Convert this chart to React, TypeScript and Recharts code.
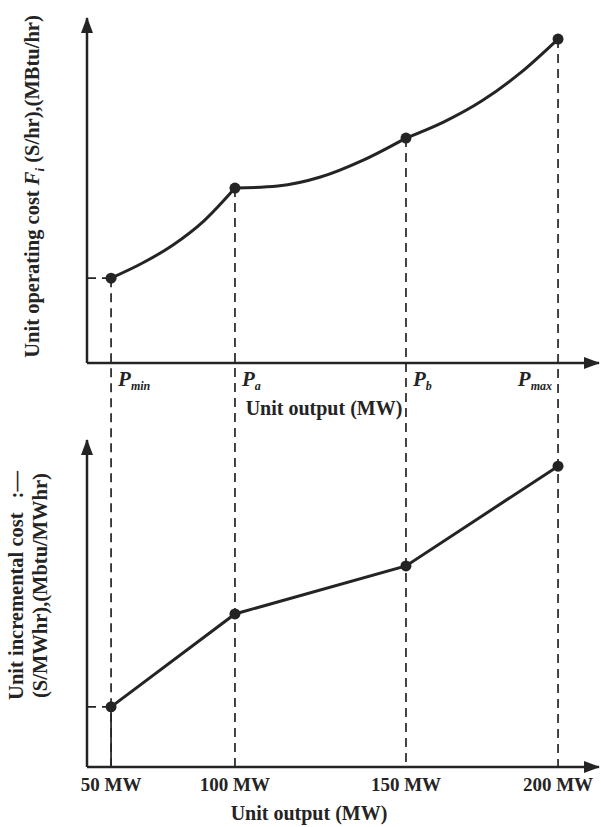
import React from 'react';
import { LineChart, Line, XAxis, YAxis, ReferenceLine, Label } from 'recharts';

// ---------------- data ----------------
const unitOutputMW = [50, 100, 150, 200];
const pointSubscripts = ['min', 'a', 'b', 'max'];
const outputTickLabels = ['50 MW', '100 MW', '150 MW', '200 MW'];
const operatingCostAtPoints = [24.6, 50.7, 65.2, 93.9];
const incrementalCostAtPoints = [18.4, 46.8, 61.5, 92.0];

// samples along the operating-cost curve, one list per curve piece
const minToA_MW = [50, 62.5, 75, 87.5, 100];
const minToA_Cost = [24.6, 28.9, 34.2, 41.2, 50.7];
const aToB_MW = [100, 112.5, 125, 137.5, 150];
const aToB_Cost = [50.7, 51.3, 53.9, 58.8, 65.2];
const bToMax_MW = [150, 162.5, 175, 187.5, 200];
const bToMax_Cost = [65.2, 69.9, 76.0, 84.0, 93.9];

const topYTitle = 'Unit operating cost';
const topYUnits = '(S/hr),(MBtu/hr)';
const bottomYTitle = 'Unit incremental cost';
const bottomYTail = ':\u2014';
const bottomYUnits = '(S/MWhr),(Mbtu/MWhr)';
const xTitle = 'Unit output (MW)';

// ---------------- layout / style ----------------
const W = 601;
const H = 827;
const PLOT_LEFT = 87;
const PLOT_RIGHT = 599;
const TOP_PLOT_TOP = 18;
const TOP_PLOT_BOTTOM = 363;
const BOT_PLOT_TOP = 440;
const BOT_PLOT_BOTTOM = 767;
const Y_AXIS_W = 60;
const TOP_XAXIS_H = 70;
const BOT_XAXIS_H = 60;
const Y_DOMAIN: [number, number] = [0, 100];
const INK = '#242424';
const FONT = '"Liberation Serif", "Times New Roman", Times, serif';

// the drawing is not to scale: piecewise-linear output axis
const X_DOMAIN: [number, number] = [40, 220];
const X_STOPS = [40, 50, 100, 150, 200, 220];
const X_FRACS = [0, 0.047, 0.289, 0.623, 0.92, 1];

function makeOutputScale(initDom: number[] = X_DOMAIN, initRange: number[] = [0, 1]): any {
  let dom = initDom.slice();
  let rng = initRange.slice();
  const scale: any = (v: any) => {
    const n = X_STOPS.length;
    const val = Number(v);
    let i = 0;
    while (i < n - 2 && val > X_STOPS[i + 1]) i++;
    const t = (val - X_STOPS[i]) / (X_STOPS[i + 1] - X_STOPS[i]);
    const f = X_FRACS[i] + t * (X_FRACS[i + 1] - X_FRACS[i]);
    return rng[0] + f * (rng[1] - rng[0]);
  };
  scale.domain = (d?: any) => {
    if (d === undefined) return dom.slice();
    dom = Array.from(d);
    return scale;
  };
  scale.range = (r?: any) => {
    if (r === undefined) return rng.slice();
    rng = Array.from(r);
    return scale;
  };
  scale.copy = () => makeOutputScale(dom, rng);
  scale.ticks = () => unitOutputMW.slice();
  scale.tickFormat = () => (v: any) => String(v);
  scale.invert = (px: number) => {
    const f = (px - rng[0]) / (rng[1] - rng[0]);
    let i = 0;
    while (i < X_FRACS.length - 2 && f > X_FRACS[i + 1]) i++;
    const t = (f - X_FRACS[i]) / (X_FRACS[i + 1] - X_FRACS[i]);
    return X_STOPS[i] + t * (X_STOPS[i + 1] - X_STOPS[i]);
  };
  return scale;
}

const outputScaleTop = makeOutputScale();
const outputScaleBottom = makeOutputScale();

// cost value at the level of the lower panel's x-axis (drop lines reach down to it)
const costAtLowerAxis =
  Y_DOMAIN[0] -
  ((BOT_PLOT_BOTTOM - TOP_PLOT_BOTTOM) / (TOP_PLOT_BOTTOM - TOP_PLOT_TOP)) * (Y_DOMAIN[1] - Y_DOMAIN[0]);

// ---------------- tables ----------------
const allCurveMW = Array.from(new Set([...minToA_MW, ...aToB_MW, ...bToMax_MW])).sort((a, b) => a - b);
const pick = (xs: number[], ys: number[], mw: number) => {
  const k = xs.indexOf(mw);
  return k >= 0 ? ys[k] : null;
};
const topRows = allCurveMW.map((mw) => ({
  mw,
  minToA: pick(minToA_MW, minToA_Cost, mw),
  aToB: pick(aToB_MW, aToB_Cost, mw),
  bToMax: pick(bToMax_MW, bToMax_Cost, mw),
  point: pick(unitOutputMW, operatingCostAtPoints, mw),
}));
const bottomRows = unitOutputMW.map((mw, i) => ({ mw, inc: incrementalCostAtPoints[i] }));

// ---------------- renderers ----------------
const PTick = (props: any) => {
  const { x, y, payload } = props;
  const i = unitOutputMW.indexOf(payload.value);
  const last = i === unitOutputMW.length - 1;
  return (
    <text
      x={last ? x - 6 : x + 7}
      y={y + 23}
      textAnchor={last ? 'end' : 'start'}
      fontFamily={FONT}
      fontWeight="bold"
      fontStyle="italic"
      fontSize={21}
      fill={INK}
    >
      P
      <tspan fontSize={12} dy={4}>
        {pointSubscripts[i]}
      </tspan>
    </text>
  );
};

const MWTick = (props: any) => {
  const { x, y, payload } = props;
  const i = unitOutputMW.indexOf(payload.value);
  return (
    <text x={x} y={y + 24} textAnchor="middle" fontFamily={FONT} fontWeight="bold" fontSize={19} fill={INK}>
      {outputTickLabels[i]}
    </text>
  );
};

const TopXTitle = (props: any) => {
  const vb = props.viewBox;
  return (
    <text x={vb.x + 237} y={vb.y + 52} textAnchor="middle" fontFamily={FONT} fontWeight="bold" fontSize={20} fill={INK}>
      {xTitle}
    </text>
  );
};

const BottomXTitle = (props: any) => {
  const vb = props.viewBox;
  return (
    <text x={vb.x + 222} y={vb.y + 53} textAnchor="middle" fontFamily={FONT} fontWeight="bold" fontSize={20} fill={INK}>
      {xTitle}
    </text>
  );
};

const TopYTitle = (props: any) => {
  const vb = props.viewBox;
  const bx = vb.x + vb.width - 48;
  const cy = vb.y + vb.height / 2 - 4;
  return (
    <text
      x={bx}
      y={cy}
      transform={`rotate(-90 ${bx} ${cy})`}
      textAnchor="middle"
      fontFamily={FONT}
      fontWeight="bold"
      fontSize={20.5}
      fill={INK}
    >
      {topYTitle + ' '}
      <tspan fontStyle="italic">F</tspan>
      <tspan fontStyle="italic" fontSize={13} dy={5}>
        i
      </tspan>
      <tspan dy={-5}>{' ' + topYUnits}</tspan>
    </text>
  );
};

const BottomYTitle = (props: any) => {
  const vb = props.viewBox;
  const cy = vb.y + vb.height / 2 - 18;
  const x1 = vb.x + vb.width - 64;
  const x2 = vb.x + vb.width - 40;
  return (
    <g>
      <text
        x={x1}
        y={cy}
        transform={`rotate(-90 ${x1} ${cy})`}
        textAnchor="middle"
        fontFamily={FONT}
        fontWeight="bold"
        fontSize={20.5}
        fill={INK}
      >
        {bottomYTitle}
        <tspan dx={14}>{bottomYTail}</tspan>
      </text>
      <text
        x={x2}
        y={cy}
        transform={`rotate(-90 ${x2} ${cy})`}
        textAnchor="middle"
        fontFamily={FONT}
        fontWeight="bold"
        fontSize={20.5}
        fill={INK}
      >
        {bottomYUnits}
      </text>
    </g>
  );
};

const arrowDefs = (id: string) => (
  <defs>
    <marker
      id={id}
      viewBox="0 0 16 12"
      refX={15}
      refY={6}
      markerWidth={16}
      markerHeight={12}
      markerUnits="userSpaceOnUse"
      orient="auto-start-reverse"
    >
      <path d="M0,0 L16,6 L0,12 Z" fill={INK} />
    </marker>
  </defs>
);

const dashed = { stroke: INK, strokeWidth: 1.7, strokeDasharray: '9 6' };

export default function App() {
  return (
    <div style={{ position: 'absolute', left: 0, top: 0, width: W, height: H, background: '#fff' }}>
      {/* upper panel: operating cost */}
      <div style={{ position: 'absolute', left: 0, top: 0 }}>
        <LineChart
          width={W}
          height={H}
          data={topRows}
          margin={{
            top: TOP_PLOT_TOP,
            right: W - PLOT_RIGHT,
            left: PLOT_LEFT - Y_AXIS_W,
            bottom: H - TOP_PLOT_BOTTOM - TOP_XAXIS_H,
          }}
        >
          {arrowDefs('arrowTopPanel')}
          <XAxis
            dataKey="mw"
            type="number"
            domain={X_DOMAIN}
            scale={outputScaleTop}
            allowDataOverflow
            ticks={unitOutputMW}
            interval={0}
            tick={(p: any) => <PTick {...p} />}
            tickLine={false}
            tickSize={0}
            tickMargin={0}
            height={TOP_XAXIS_H}
            axisLine={{ stroke: INK, strokeWidth: 2.5, markerEnd: 'url(#arrowTopPanel)' }}
            label={<Label content={TopXTitle} />}
          />
          <YAxis
            type="number"
            domain={Y_DOMAIN}
            allowDataOverflow
            width={Y_AXIS_W}
            tick={false}
            tickLine={false}
            axisLine={{ stroke: INK, strokeWidth: 2.5, markerStart: 'url(#arrowTopPanel)' }}
            label={<Label content={TopYTitle} />}
          />
          <ReferenceLine
            ifOverflow="visible"
            segment={[
              { x: X_DOMAIN[0], y: operatingCostAtPoints[0] },
              { x: unitOutputMW[0], y: operatingCostAtPoints[0] },
            ]}
            {...dashed}
          />
          {unitOutputMW.map((mw, i) => (
            <ReferenceLine
              key={'drop' + mw}
              ifOverflow="visible"
              segment={[
                { x: mw, y: operatingCostAtPoints[i] },
                { x: mw, y: costAtLowerAxis },
              ]}
              {...dashed}
            />
          ))}
          <Line dataKey="minToA" type="monotone" stroke={INK} strokeWidth={3} dot={false} activeDot={false} isAnimationActive={false} />
          <Line dataKey="aToB" type="monotone" stroke={INK} strokeWidth={3} dot={false} activeDot={false} isAnimationActive={false} />
          <Line dataKey="bToMax" type="monotone" stroke={INK} strokeWidth={3} dot={false} activeDot={false} isAnimationActive={false} />
          <Line
            dataKey="point"
            stroke="none"
            dot={{ r: 5.5, fill: INK, stroke: INK, strokeWidth: 0 }}
            activeDot={false}
            isAnimationActive={false}
          />
        </LineChart>
      </div>

      {/* lower panel: incremental cost */}
      <div style={{ position: 'absolute', left: 0, top: 0 }}>
        <LineChart
          width={W}
          height={H}
          data={bottomRows}
          margin={{
            top: BOT_PLOT_TOP,
            right: W - PLOT_RIGHT,
            left: PLOT_LEFT - Y_AXIS_W,
            bottom: H - BOT_PLOT_BOTTOM - BOT_XAXIS_H,
          }}
        >
          {arrowDefs('arrowBottomPanel')}
          <XAxis
            dataKey="mw"
            type="number"
            domain={X_DOMAIN}
            scale={outputScaleBottom}
            allowDataOverflow
            ticks={unitOutputMW}
            interval={0}
            tick={(p: any) => <MWTick {...p} />}
            tickLine={false}
            tickSize={0}
            tickMargin={0}
            height={BOT_XAXIS_H}
            axisLine={{ stroke: INK, strokeWidth: 2.5, markerEnd: 'url(#arrowBottomPanel)' }}
            label={<Label content={BottomXTitle} />}
          />
          <YAxis
            type="number"
            domain={Y_DOMAIN}
            allowDataOverflow
            width={Y_AXIS_W}
            tick={false}
            tickLine={false}
            axisLine={{ stroke: INK, strokeWidth: 2.5, markerStart: 'url(#arrowBottomPanel)' }}
            label={<Label content={BottomYTitle} />}
          />
          <ReferenceLine
            ifOverflow="visible"
            segment={[
              { x: X_DOMAIN[0], y: incrementalCostAtPoints[0] },
              { x: unitOutputMW[0], y: incrementalCostAtPoints[0] },
            ]}
            {...dashed}
          />
          <ReferenceLine
            ifOverflow="visible"
            segment={[
              { x: unitOutputMW[0], y: incrementalCostAtPoints[0] },
              { x: unitOutputMW[0], y: Y_DOMAIN[0] },
            ]}
            stroke={INK}
            strokeWidth={1.7}
          />
          <Line
            dataKey="inc"
            type="linear"
            stroke={INK}
            strokeWidth={3}
            dot={{ r: 5.5, fill: INK, stroke: INK, strokeWidth: 0 }}
            activeDot={false}
            isAnimationActive={false}
          />
        </LineChart>
      </div>
    </div>
  );
}
